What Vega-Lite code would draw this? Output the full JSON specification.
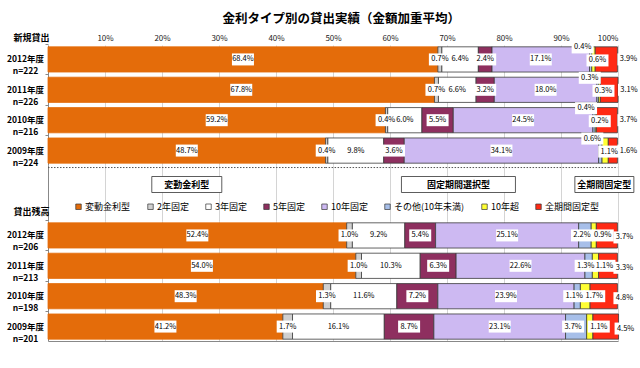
{
  "$schema": "https://vega.github.io/schema/vega-lite/v6.json",
  "padding": {"left": 6, "top": 12, "right": 0, "bottom": 0},
  "bounds": "flush",
  "spacing": 0,
  "title": {"text": "金利タイプ別の貸出実績（金額加重平均）", "fontSize": 12.5, "fontWeight": "bold", "anchor": "middle", "offset": 8, "dx": 18, "font": "Noto Sans CJK JP", "color": "#000"},
  "datasets": {
    "loans": [
      {"sec": "新規貸出", "row": "2012年度 n=222", "type": "変動金利型", "v": 68.4},
      {"sec": "新規貸出", "row": "2012年度 n=222", "type": "2年固定", "v": 0.7},
      {"sec": "新規貸出", "row": "2012年度 n=222", "type": "3年固定", "v": 6.4},
      {"sec": "新規貸出", "row": "2012年度 n=222", "type": "5年固定", "v": 2.4},
      {"sec": "新規貸出", "row": "2012年度 n=222", "type": "10年固定", "v": 17.1},
      {"sec": "新規貸出", "row": "2012年度 n=222", "type": "その他(10年未満)", "v": 0.4},
      {"sec": "新規貸出", "row": "2012年度 n=222", "type": "10年超", "v": 0.6},
      {"sec": "新規貸出", "row": "2012年度 n=222", "type": "全期間固定型", "v": 3.9},
      {"sec": "新規貸出", "row": "2011年度 n=226", "type": "変動金利型", "v": 67.8},
      {"sec": "新規貸出", "row": "2011年度 n=226", "type": "2年固定", "v": 0.7},
      {"sec": "新規貸出", "row": "2011年度 n=226", "type": "3年固定", "v": 6.6},
      {"sec": "新規貸出", "row": "2011年度 n=226", "type": "5年固定", "v": 3.2},
      {"sec": "新規貸出", "row": "2011年度 n=226", "type": "10年固定", "v": 18.0},
      {"sec": "新規貸出", "row": "2011年度 n=226", "type": "その他(10年未満)", "v": 0.3},
      {"sec": "新規貸出", "row": "2011年度 n=226", "type": "10年超", "v": 0.3},
      {"sec": "新規貸出", "row": "2011年度 n=226", "type": "全期間固定型", "v": 3.1},
      {"sec": "新規貸出", "row": "2010年度 n=216", "type": "変動金利型", "v": 59.2},
      {"sec": "新規貸出", "row": "2010年度 n=216", "type": "2年固定", "v": 0.4},
      {"sec": "新規貸出", "row": "2010年度 n=216", "type": "3年固定", "v": 6.0},
      {"sec": "新規貸出", "row": "2010年度 n=216", "type": "5年固定", "v": 5.5},
      {"sec": "新規貸出", "row": "2010年度 n=216", "type": "10年固定", "v": 24.5},
      {"sec": "新規貸出", "row": "2010年度 n=216", "type": "その他(10年未満)", "v": 0.4},
      {"sec": "新規貸出", "row": "2010年度 n=216", "type": "10年超", "v": 0.2},
      {"sec": "新規貸出", "row": "2010年度 n=216", "type": "全期間固定型", "v": 3.7},
      {"sec": "新規貸出", "row": "2009年度 n=224", "type": "変動金利型", "v": 48.7},
      {"sec": "新規貸出", "row": "2009年度 n=224", "type": "2年固定", "v": 0.4},
      {"sec": "新規貸出", "row": "2009年度 n=224", "type": "3年固定", "v": 9.8},
      {"sec": "新規貸出", "row": "2009年度 n=224", "type": "5年固定", "v": 3.6},
      {"sec": "新規貸出", "row": "2009年度 n=224", "type": "10年固定", "v": 34.1},
      {"sec": "新規貸出", "row": "2009年度 n=224", "type": "その他(10年未満)", "v": 0.6},
      {"sec": "新規貸出", "row": "2009年度 n=224", "type": "10年超", "v": 1.1},
      {"sec": "新規貸出", "row": "2009年度 n=224", "type": "全期間固定型", "v": 1.6},
      {"sec": "貸出残高", "row": "2012年度 n=206", "type": "変動金利型", "v": 52.4},
      {"sec": "貸出残高", "row": "2012年度 n=206", "type": "2年固定", "v": 1.0},
      {"sec": "貸出残高", "row": "2012年度 n=206", "type": "3年固定", "v": 9.2},
      {"sec": "貸出残高", "row": "2012年度 n=206", "type": "5年固定", "v": 5.4},
      {"sec": "貸出残高", "row": "2012年度 n=206", "type": "10年固定", "v": 25.1},
      {"sec": "貸出残高", "row": "2012年度 n=206", "type": "その他(10年未満)", "v": 2.2},
      {"sec": "貸出残高", "row": "2012年度 n=206", "type": "10年超", "v": 0.9},
      {"sec": "貸出残高", "row": "2012年度 n=206", "type": "全期間固定型", "v": 3.7},
      {"sec": "貸出残高", "row": "2011年度 n=213", "type": "変動金利型", "v": 54.0},
      {"sec": "貸出残高", "row": "2011年度 n=213", "type": "2年固定", "v": 1.0},
      {"sec": "貸出残高", "row": "2011年度 n=213", "type": "3年固定", "v": 10.3},
      {"sec": "貸出残高", "row": "2011年度 n=213", "type": "5年固定", "v": 6.3},
      {"sec": "貸出残高", "row": "2011年度 n=213", "type": "10年固定", "v": 22.6},
      {"sec": "貸出残高", "row": "2011年度 n=213", "type": "その他(10年未満)", "v": 1.3},
      {"sec": "貸出残高", "row": "2011年度 n=213", "type": "10年超", "v": 1.1},
      {"sec": "貸出残高", "row": "2011年度 n=213", "type": "全期間固定型", "v": 3.3},
      {"sec": "貸出残高", "row": "2010年度 n=198", "type": "変動金利型", "v": 48.3},
      {"sec": "貸出残高", "row": "2010年度 n=198", "type": "2年固定", "v": 1.3},
      {"sec": "貸出残高", "row": "2010年度 n=198", "type": "3年固定", "v": 11.6},
      {"sec": "貸出残高", "row": "2010年度 n=198", "type": "5年固定", "v": 7.2},
      {"sec": "貸出残高", "row": "2010年度 n=198", "type": "10年固定", "v": 23.9},
      {"sec": "貸出残高", "row": "2010年度 n=198", "type": "その他(10年未満)", "v": 1.1},
      {"sec": "貸出残高", "row": "2010年度 n=198", "type": "10年超", "v": 1.7},
      {"sec": "貸出残高", "row": "2010年度 n=198", "type": "全期間固定型", "v": 4.8},
      {"sec": "貸出残高", "row": "2009年度 n=201", "type": "変動金利型", "v": 41.2},
      {"sec": "貸出残高", "row": "2009年度 n=201", "type": "2年固定", "v": 1.7},
      {"sec": "貸出残高", "row": "2009年度 n=201", "type": "3年固定", "v": 16.1},
      {"sec": "貸出残高", "row": "2009年度 n=201", "type": "5年固定", "v": 8.7},
      {"sec": "貸出残高", "row": "2009年度 n=201", "type": "10年固定", "v": 23.1},
      {"sec": "貸出残高", "row": "2009年度 n=201", "type": "その他(10年未満)", "v": 3.7},
      {"sec": "貸出残高", "row": "2009年度 n=201", "type": "10年超", "v": 1.1},
      {"sec": "貸出残高", "row": "2009年度 n=201", "type": "全期間固定型", "v": 4.5}
    ],
    "groups": [
      {"g": "変動金利型", "s": 0, "e": 48.7},
      {"g": "固定期間選択型", "s": 48.7, "e": 98.3},
      {"g": "全期間固定型", "s": 98.3, "e": 99.9}
    ]
  },
  "resolve": {
    "scale": {"x": "independent", "y": "independent", "color": "independent", "shape": "independent"},
    "axis": {"x": "independent", "y": "independent"},
    "legend": {"color": "independent", "shape": "independent"}
  },
  "vconcat": [
    {
      "width": 570,
      "height": 120,
      "data": {"name": "loans"},
      "transform": [
        {"filter": "datum.sec === '新規貸出'"},
        {"stack": "v", "groupby": ["row"], "as": ["x0", "x1"]},
        {"calculate": "(datum.x0 + datum.x1) / 2", "as": "xm"},
        {"calculate": "format(datum.v, '.1f') + '%'", "as": "lab"}
      ],
      "encoding": {
        "y": {
          "field": "row", "type": "nominal", "sort": null,
          "scale": {"paddingInner": 0.17, "paddingOuter": 0.06},
          "axis": {"title": "新規貸出", "titleAngle": 0, "titleX": -17, "titleY": -8, "titleAlign": "center", "titleBaseline": "middle", "titleFontSize": 9, "titleFontWeight": "bold", "labelExpr": "split(datum.label, ' ')", "labelAlign": "center", "labelBaseline": "middle", "labelFontSize": 8.5, "labelFontWeight": "bold", "labelLineHeight": 12, "labelPadding": 20, "tickSize": 3, "bandPosition": -0.1, "domainColor": "#888", "tickColor": "#888", "labelColor": "#000", "titleColor": "#000"}
        }
      },
      "layer": [
        {
          "mark": {"type": "bar", "strokeWidth": 0.8},
          "encoding": {
            "x": {"field": "x0", "type": "quantitative", "title": null, "scale": {"domain": [0, 100], "nice": false},
              "axis": {"orient": "top", "values": [10, 20, 30, 40, 50, 60, 70, 80, 90, 100], "labelExpr": "datum.value + '%'", "ticks": false, "domain": false, "grid": true, "gridColor": "#d4d4d4", "labelFontSize": 8, "labelPadding": 3, "labelColor": "#222"}},
            "x2": {"field": "x1"},
            "color": {"field": "type", "type": "nominal", "scale": {"domain": ["変動金利型", "2年固定", "3年固定", "5年固定", "10年固定", "その他(10年未満)", "10年超", "全期間固定型"], "range": ["#e46c0a", "#d0d0d0", "#ffffff", "#8e2f5f", "#cdb9f2", "#a7bfe9", "#ffff33", "#ff2a14"]}, "legend": null},
            "stroke": {"condition": {"test": "datum.type === '変動金利型'", "value": "#e46c0a"}, "value": "#3c3c3c"}
          }
        },
        {
          "transform": [{"filter": "indexof(['変動金利型','2年固定','3年固定','5年固定','10年固定'], datum.type) >= 0"}],
          "mark": {"type": "point", "shape": "M-11,-6H11V6H-11Z", "size": 4, "filled": true, "color": "white", "strokeWidth": 0, "opacity": 1},
          "encoding": {"x": {"field": "xm", "type": "quantitative", "title": null}}
        },
        {
          "transform": [{"filter": "datum.type === 'その他(10年未満)'"}],
          "mark": {"type": "point", "shape": "M-11,-6H11V6H-11Z", "size": 4, "filled": true, "color": "white", "strokeWidth": 0, "opacity": 1, "xOffset": -8, "yOffset": -12},
          "encoding": {"x": {"field": "xm", "type": "quantitative", "title": null}}
        },
        {
          "transform": [{"filter": "datum.type === '10年超'"}],
          "mark": {"type": "point", "shape": "M-11,-6H11V6H-11Z", "size": 4, "filled": true, "color": "white", "strokeWidth": 0, "opacity": 1, "xOffset": 4, "yOffset": 1},
          "encoding": {"x": {"field": "xm", "type": "quantitative", "title": null}}
        },
        {
          "transform": [{"filter": "datum.type === '全期間固定型'"}],
          "mark": {"type": "point", "shape": "M-11,-6H11V6H-11Z", "size": 4, "filled": true, "color": "white", "strokeWidth": 0, "opacity": 1, "xOffset": 11},
          "encoding": {"x": {"field": "x1", "type": "quantitative", "title": null}}
        },
        {
          "transform": [{"filter": "indexof(['変動金利型','2年固定','3年固定','5年固定','10年固定'], datum.type) >= 0"}],
          "mark": {"type": "text", "fontSize": 7.5, "color": "#000"},
          "encoding": {"x": {"field": "xm", "type": "quantitative", "title": null}, "text": {"field": "lab"}}
        },
        {
          "transform": [{"filter": "datum.type === 'その他(10年未満)'"}],
          "mark": {"type": "text", "fontSize": 7.5, "color": "#000", "xOffset": -8, "yOffset": -12},
          "encoding": {"x": {"field": "xm", "type": "quantitative", "title": null}, "text": {"field": "lab"}}
        },
        {
          "transform": [{"filter": "datum.type === '10年超'"}],
          "mark": {"type": "text", "fontSize": 7.5, "color": "#000", "xOffset": 4, "yOffset": 1},
          "encoding": {"x": {"field": "xm", "type": "quantitative", "title": null}, "text": {"field": "lab"}}
        },
        {
          "transform": [{"filter": "datum.type === '全期間固定型'"}],
          "mark": {"type": "text", "fontSize": 7.5, "color": "#000", "xOffset": 11},
          "encoding": {"x": {"field": "x1", "type": "quantitative", "title": null}, "text": {"field": "lab"}}
        }
      ]
    },
    {
      "width": 570,
      "height": 56,
      "layer": [
        {
          "data": {"name": "groups"},
          "mark": {"type": "rule", "strokeDash": [1.5, 1.5], "color": "#555", "strokeWidth": 1},
          "encoding": {
            "x": {"field": "s", "type": "quantitative", "title": null, "scale": {"domain": [0, 100], "nice": false},
              "axis": {"values": [10, 20, 30, 40, 50, 60, 70, 80, 90, 100], "grid": true, "gridColor": "#d4d4d4", "labels": false, "ticks": false, "domain": false}},
            "x2": {"field": "e"},
            "y": {"datum": "brace", "type": "nominal", "scale": {"type": "point", "domain": ["brace", "group", "legend", "end"], "padding": 0.15},
              "axis": {"labels": false, "ticks": false, "title": null, "domain": true, "domainColor": "#888", "grid": false}}
          }
        },
        {
          "data": {"name": "groups"},
          "transform": [{"calculate": "(datum.s + datum.e) / 2", "as": "m"}],
          "mark": {"type": "point", "size": 4, "filled": true, "fill": "white", "stroke": "#333", "strokeWidth": 0.8, "opacity": 1},
          "encoding": {
            "x": {"field": "m", "type": "quantitative", "title": null},
            "y": {"datum": "group", "type": "nominal"},
            "shape": {"field": "g", "type": "nominal", "scale": {"domain": ["変動金利型", "固定期間選択型", "全期間固定型"], "range": ["M-35,-8H35V8H-35Z", "M-65.5,-8H48.5V8H-65.5Z", "M-38,-8H21V8H-38Z"]}, "legend": null}
          }
        },
        {
          "data": {"name": "groups"},
          "transform": [{"calculate": "(datum.s + datum.e) / 2", "as": "m"}, {"filter": "datum.g === '変動金利型'"}],
          "mark": {"type": "text", "fontSize": 9, "fontWeight": "bold", "color": "#000"},
          "encoding": {"x": {"field": "m", "type": "quantitative", "title": null}, "y": {"datum": "group", "type": "nominal"}, "text": {"field": "g"}}
        },
        {
          "data": {"name": "groups"},
          "transform": [{"calculate": "(datum.s + datum.e) / 2", "as": "m"}, {"filter": "datum.g !== '変動金利型'"}],
          "mark": {"type": "text", "fontSize": 9, "fontWeight": "bold", "color": "#000", "xOffset": -8.5},
          "encoding": {"x": {"field": "m", "type": "quantitative", "title": null}, "y": {"datum": "group", "type": "nominal"}, "text": {"field": "g"}}
        },
        {
          "data": {"name": "loans"},
          "transform": [{"filter": "false"}],
          "mark": {"type": "square", "filled": true, "opacity": 1, "stroke": "#333", "strokeWidth": 0.7},
          "encoding": {
            "x": {"field": "v", "type": "quantitative", "title": null},
            "y": {"datum": "legend", "type": "nominal"},
            "color": {"field": "type", "type": "nominal",
              "scale": {"domain": ["変動金利型", "2年固定", "3年固定", "5年固定", "10年固定", "その他(10年未満)", "10年超", "全期間固定型"], "range": ["#e46c0a", "#d0d0d0", "#ffffff", "#8e2f5f", "#cdb9f2", "#a7bfe9", "#ffff33", "#ff2a14"]},
              "legend": {"orient": "none", "legendX": 26, "legendY": 37, "direction": "horizontal", "title": null, "symbolType": "square", "symbolSize": 30, "symbolStrokeColor": "#333", "symbolStrokeWidth": 0.7, "symbolOpacity": 1, "labelFontSize": 9, "labelOffset": 2, "columnPadding": 15, "labelColor": "#000"}}
          }
        }
      ]
    },
    {
      "width": 570,
      "height": 120,
      "data": {"name": "loans"},
      "transform": [
        {"filter": "datum.sec === '貸出残高'"},
        {"stack": "v", "groupby": ["row"], "as": ["x0", "x1"]},
        {"calculate": "(datum.x0 + datum.x1) / 2", "as": "xm"},
        {"calculate": "format(datum.v, '.1f') + '%'", "as": "lab"}
      ],
      "encoding": {
        "y": {
          "field": "row", "type": "nominal", "sort": null,
          "scale": {"paddingInner": 0.17, "paddingOuter": 0.06},
          "axis": {"title": "貸出残高", "titleAngle": 0, "titleX": -17, "titleY": -10, "titleAlign": "center", "titleBaseline": "middle", "titleFontSize": 9, "titleFontWeight": "bold", "labelExpr": "split(datum.label, ' ')", "labelAlign": "center", "labelBaseline": "middle", "labelFontSize": 8.5, "labelFontWeight": "bold", "labelLineHeight": 12, "labelPadding": 20, "tickSize": 3, "bandPosition": -0.1, "domainColor": "#888", "tickColor": "#888", "labelColor": "#000", "titleColor": "#000"}
        }
      },
      "layer": [
        {
          "mark": {"type": "bar", "strokeWidth": 0.8},
          "encoding": {
            "x": {"field": "x0", "type": "quantitative", "title": null, "scale": {"domain": [0, 100], "nice": false},
              "axis": {"orient": "bottom", "values": [10, 20, 30, 40, 50, 60, 70, 80, 90, 100], "labels": false, "ticks": false, "domain": true, "domainColor": "#888", "grid": true, "gridColor": "#d4d4d4"}},
            "x2": {"field": "x1"},
            "color": {"field": "type", "type": "nominal", "scale": {"domain": ["変動金利型", "2年固定", "3年固定", "5年固定", "10年固定", "その他(10年未満)", "10年超", "全期間固定型"], "range": ["#e46c0a", "#d0d0d0", "#ffffff", "#8e2f5f", "#cdb9f2", "#a7bfe9", "#ffff33", "#ff2a14"]}, "legend": null},
            "stroke": {"condition": {"test": "datum.type === '変動金利型'", "value": "#e46c0a"}, "value": "#3c3c3c"}
          }
        },
        {
          "transform": [{"filter": "indexof(['変動金利型','2年固定','3年固定','5年固定','10年固定'], datum.type) >= 0"}],
          "mark": {"type": "point", "shape": "M-11,-6H11V6H-11Z", "size": 4, "filled": true, "color": "white", "strokeWidth": 0, "opacity": 1},
          "encoding": {"x": {"field": "xm", "type": "quantitative", "title": null}}
        },
        {
          "transform": [{"filter": "datum.type === 'その他(10年未満)'"}],
          "mark": {"type": "point", "shape": "M-11,-6H11V6H-11Z", "size": 4, "filled": true, "color": "white", "strokeWidth": 0, "opacity": 1, "xOffset": -3},
          "encoding": {"x": {"field": "xm", "type": "quantitative", "title": null}}
        },
        {
          "transform": [{"filter": "datum.type === '10年超'"}],
          "mark": {"type": "point", "shape": "M-11,-6H11V6H-11Z", "size": 4, "filled": true, "color": "white", "strokeWidth": 0, "opacity": 1, "xOffset": 9},
          "encoding": {"x": {"field": "xm", "type": "quantitative", "title": null}}
        },
        {
          "transform": [{"filter": "datum.type === '全期間固定型'"}],
          "mark": {"type": "point", "shape": "M-11,-6H11V6H-11Z", "size": 4, "filled": true, "color": "white", "strokeWidth": 0, "opacity": 1, "xOffset": 7, "yOffset": 2},
          "encoding": {"x": {"field": "x1", "type": "quantitative", "title": null}}
        },
        {
          "transform": [{"filter": "indexof(['変動金利型','2年固定','3年固定','5年固定','10年固定'], datum.type) >= 0"}],
          "mark": {"type": "text", "fontSize": 7.5, "color": "#000"},
          "encoding": {"x": {"field": "xm", "type": "quantitative", "title": null}, "text": {"field": "lab"}}
        },
        {
          "transform": [{"filter": "datum.type === 'その他(10年未満)'"}],
          "mark": {"type": "text", "fontSize": 7.5, "color": "#000", "xOffset": -3},
          "encoding": {"x": {"field": "xm", "type": "quantitative", "title": null}, "text": {"field": "lab"}}
        },
        {
          "transform": [{"filter": "datum.type === '10年超'"}],
          "mark": {"type": "text", "fontSize": 7.5, "color": "#000", "xOffset": 9},
          "encoding": {"x": {"field": "xm", "type": "quantitative", "title": null}, "text": {"field": "lab"}}
        },
        {
          "transform": [{"filter": "datum.type === '全期間固定型'"}],
          "mark": {"type": "text", "fontSize": 7.5, "color": "#000", "xOffset": 7, "yOffset": 2},
          "encoding": {"x": {"field": "x1", "type": "quantitative", "title": null}, "text": {"field": "lab"}}
        }
      ]
    }
  ],
  "config": {
    "font": "Noto Sans CJK JP",
    "view": {"stroke": null},
    "axis": {"labelFont": "Noto Sans CJK JP", "titleFont": "Noto Sans CJK JP"},
    "legend": {"labelFont": "Noto Sans CJK JP"},
    "text": {"font": "Noto Sans CJK JP"}
  }
}
